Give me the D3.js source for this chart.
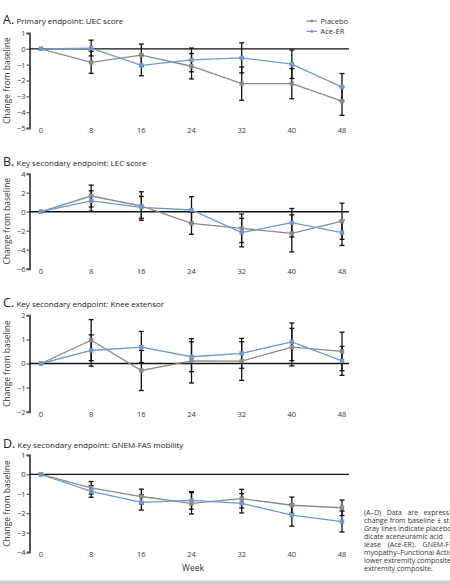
<!DOCTYPE html>
<html>
<head>
<meta charset="utf-8">
<script src="https://cdn.jsdelivr.net/npm/d3@7"></script>
<style>
  body { margin: 0; background: #fff; overflow: hidden; }
  svg { display: block; font-family: "Open Sans", sans-serif; }
</style>
</head>
<body>
<svg width="450" height="584"></svg>
<script>
// weeks shared by all four panels
var weeks = [0, 8, 16, 24, 32, 40, 48]

// A. UEC score
var uecPlacebo = [0, -0.85, -0.4, -1.1, -2.2, -2.2, -3.3]
var uecPlaceboErr = [0, 0.7, 0.7, 0.8, 1.05, 0.95, 0.9]
var uecAce = [0, 0.05, -1.05, -0.7, -0.57, -0.97, -2.42]
var uecAceErr = [0, 0.5, 0.65, 0.75, 0.95, 0.9, 0.86]

// B. LEC score
var lecPlacebo = [0, 1.65, 0.6, -1.22, -1.75, -2.28, -1.0]
var lecPlaceboErr = [0, 1.15, 1.5, 1.15, 1.5, 1.95, 1.9]
var lecAce = [0, 1.13, 0.46, 0.18, -2.2, -1.16, -2.2]
var lecAceErr = [0, 1.07, 1.15, 1.4, 1.5, 1.5, 1.35]

// C. Knee extensor
var kneePlacebo = [0, 0.97, -0.29, 0.11, 0.1, 0.68, 0.5]
var kneePlaceboErr = [0, 0.85, 0.83, 0.92, 0.8, 0.78, 0.8]
var kneeAce = [0, 0.54, 0.68, 0.28, 0.42, 0.9, 0.11]
var kneeAceErr = [0, 0.65, 0.65, 0.62, 0.62, 0.78, 0.6]

// D. GNEM-FAS mobility
var fasPlacebo = [0, -0.69, -1.14, -1.49, -1.25, -1.59, -1.72]
var fasPlaceboErr = [0, 0.32, 0.38, 0.55, 0.48, 0.42, 0.4]
var fasAce = [0, -0.88, -1.44, -1.34, -1.49, -2.1, -2.43]
var fasAceErr = [0, 0.3, 0.4, 0.45, 0.5, 0.57, 0.54]

var legendLabels = ['Placebo', 'Ace-ER']
// caption as it shows in the (cropped) figure
var captionLines = [
  '(A\u2013D) Data are express',
  'change from baseline \u00b1 st',
  'Gray lines indicate placebo',
  'dicate aceneuramic acid',
  'lease (Ace-ER). GNEM-F',
  'myopathy\u2013Functional Activ',
  'lower extremity composite',
  'extremity composite.'
]
var captionWidths = [85, 85, 85, 74, 85, 85, 85, 0]

var panels = [
  { letter: 'A.', title: 'Primary endpoint: UEC score', domain: [-5, 1], ticks: [1, 0, -1, -2, -3, -4, -5],
    top: 33, bottom: 128, titleY: 24, placebo: uecPlacebo, placeboErr: uecPlaceboErr, ace: uecAce, aceErr: uecAceErr },
  { letter: 'B.', title: 'Key secondary endpoint: LEC score', domain: [-6, 4], ticks: [4, 2, 0, -2, -4, -6],
    top: 173.7, bottom: 268.7, titleY: 166, placebo: lecPlacebo, placeboErr: lecPlaceboErr, ace: lecAce, aceErr: lecAceErr },
  { letter: 'C.', title: 'Key secondary endpoint: Knee extensor', domain: [-2, 2], ticks: [2, 1, 0, -1, -2],
    top: 315.3, bottom: 411.7, titleY: 307, placebo: kneePlacebo, placeboErr: kneePlaceboErr, ace: kneeAce, aceErr: kneeAceErr },
  { letter: 'D.', title: 'Key secondary endpoint: GNEM-FAS mobility', domain: [-4, 1], ticks: [1, 0, -1, -2, -3, -4],
    top: 455, bottom: 552, titleY: 448, placebo: fasPlacebo, placeboErr: fasPlaceboErr, ace: fasAce, aceErr: fasAceErr }
]

var placeboColor = '#8a8a8a'
var aceColor = '#6f98cc'
var axisX = 29.5

var svg = d3.select('svg')

var xScale = d3.scaleLinear()
              .domain([0, 48])
              .range([41, 342])

panels.forEach(function(p) {
  var yScale = d3.scaleLinear()
                .domain(p.domain)
                .range([p.bottom, p.top])

  var g = svg.append('g')

  // title
  var t = g.append('text')
    .attr('x', 3)
    .attr('y', p.titleY)
    .attr('fill', '#222')
  t.append('tspan').attr('font-size', 12.5).text(p.letter + ' ')
  t.append('tspan').attr('font-size', 8).attr('dx', -1).text(p.title)

  // y axis
  var yAxis = g.append('g')
    .attr('transform', 'translate(' + axisX + ',0)')
    .call(d3.axisLeft(yScale).tickValues(p.ticks).tickSize(3).tickPadding(1)
            .tickFormat(d => d < 0 ? '\u2212' + Math.abs(d) : d))
  yAxis.select('.domain').attr('stroke', '#555').attr('stroke-width', 2)
  yAxis.selectAll('.tick line').attr('stroke', '#555').attr('stroke-width', 1.2)
  yAxis.selectAll('text').attr('font-size', 7.5).attr('fill', '#333').attr('font-family', '"Open Sans", sans-serif')

  g.append('text')
    .attr('transform', 'rotate(-90)')
    .attr('x', -(p.top + p.bottom) / 2)
    .attr('y', 10)
    .attr('text-anchor', 'middle')
    .attr('font-size', 8.5)
    .attr('fill', '#333')
    .text('Change from baseline')

  // zero line
  g.append('line')
    .attr('x1', axisX)
    .attr('x2', 349)
    .attr('y1', yScale(0))
    .attr('y2', yScale(0))
    .attr('stroke', '#111')
    .attr('stroke-width', 1.4)

  // week labels
  g.selectAll('.wk')
    .data(weeks)
    .enter()
    .append('text')
      .attr('x', d => xScale(d))
      .attr('y', p.bottom + 5)
      .attr('text-anchor', 'middle')
      .attr('font-size', 7.5)
      .attr('fill', '#333')
      .text(d => d)

  var series = [
    { vals: p.placebo, errs: p.placeboErr, color: placeboColor },
    { vals: p.ace, errs: p.aceErr, color: aceColor }
  ]

  var line = d3.line()
    .x((d, i) => xScale(weeks[i]))
    .y(d => yScale(d))

  series.forEach(function(s) {
    g.append('path')
      .datum(s.vals)
      .attr('d', line)
      .attr('fill', 'none')
      .attr('stroke', s.color)
      .attr('stroke-width', 1.3)
  })

  // error bars
  series.forEach(function(s) {
    var eb = g.selectAll(null)
      .data(s.vals.map((v, i) => ({ w: weeks[i], v: v, e: s.errs[i] })).filter(d => d.e > 0))
      .enter()
      .append('g')
      .attr('stroke', '#111')
      .attr('stroke-width', 1.3)
    eb.append('line')
      .attr('x1', d => xScale(d.w)).attr('x2', d => xScale(d.w))
      .attr('y1', d => yScale(d.v + d.e)).attr('y2', d => yScale(d.v - d.e))
    eb.append('line')
      .attr('x1', d => xScale(d.w) - 2.5).attr('x2', d => xScale(d.w) + 2.5)
      .attr('y1', d => yScale(d.v + d.e)).attr('y2', d => yScale(d.v + d.e))
    eb.append('line')
      .attr('x1', d => xScale(d.w) - 2.5).attr('x2', d => xScale(d.w) + 2.5)
      .attr('y1', d => yScale(d.v - d.e)).attr('y2', d => yScale(d.v - d.e))
  })

  // markers
  series.forEach(function(s) {
    g.selectAll(null)
      .data(s.vals)
      .enter()
      .append('rect')
        .attr('x', (d, i) => xScale(weeks[i]) - 2.2)
        .attr('y', d => yScale(d) - 2.2)
        .attr('width', 4.4)
        .attr('height', 4.4)
        .attr('fill', s.color)
  })
})

// legend
var legend = svg.append('g')
legend.selectAll('g')
  .data(legendLabels)
  .enter()
  .append('g')
  .each(function(d, i) {
    var lg = d3.select(this)
    var y = 21 + i * 10.3
    var c = i === 0 ? placeboColor : aceColor
    lg.append('line').attr('x1', 306.5).attr('x2', 317).attr('y1', y).attr('y2', y)
      .attr('stroke', c).attr('stroke-width', 1.2)
    lg.append('rect').attr('x', 310.5).attr('y', y - 1.3).attr('width', 2.6).attr('height', 2.6).attr('fill', c)
    lg.append('text').attr('x', 320.5).attr('y', y + 2.8).attr('font-size', 7.5).attr('fill', '#333').text(d)
  })

// x title
svg.append('text')
  .attr('x', 193)
  .attr('y', 570.5)
  .attr('text-anchor', 'middle')
  .attr('font-size', 8.5)
  .attr('fill', '#333')
  .text('Week')

// caption, justified by stretching word gaps
svg.append('g')
  .selectAll('text')
  .data(captionLines)
  .enter()
  .append('text')
    .attr('x', 364)
    .attr('y', (d, i) => 514.5 + i * 8)
    .attr('font-size', 7)
    .attr('fill', '#333')
    .text(d => d)
    .each(function(d, i) {
      var target = captionWidths[i]
      var gaps = d.split(' ').length - 1
      if (!target || !gaps) return
      var w = this.getComputedTextLength()
      var extra = Math.max(0, (target - w) / gaps)
      d3.select(this).style('word-spacing', extra + 'px')
    })

// bottom rule
svg.append('rect')
  .attr('x', 0)
  .attr('y', 580.5)
  .attr('width', 450)
  .attr('height', 4)
  .attr('fill', '#cfcfcf')
</script>
</body>
</html>
